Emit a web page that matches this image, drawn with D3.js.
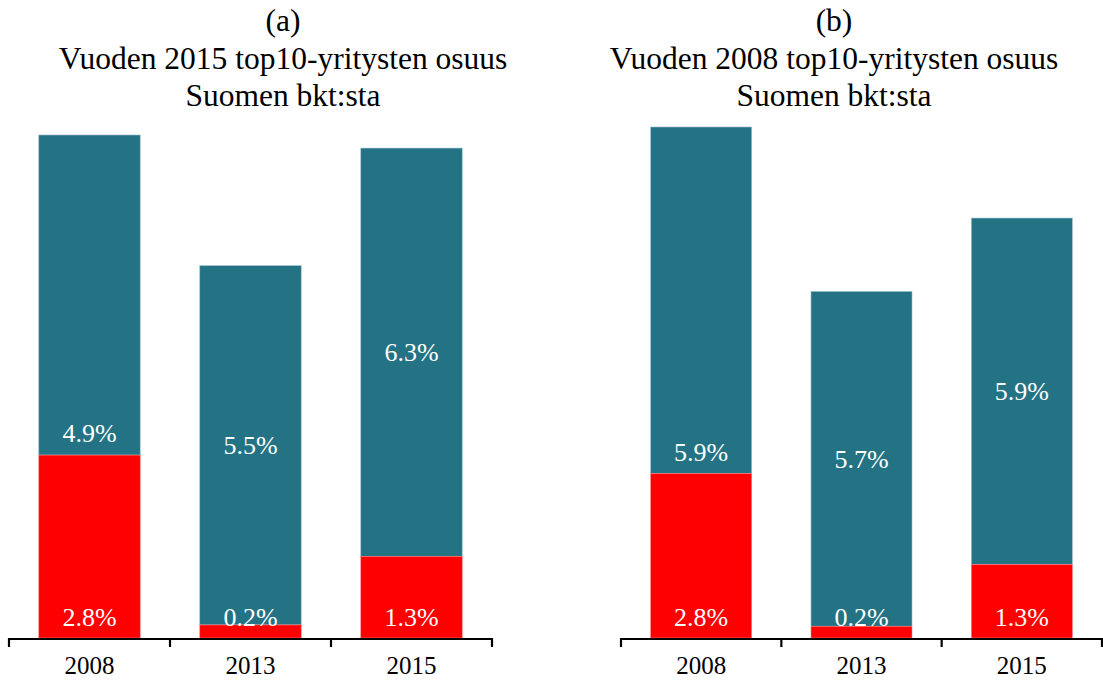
<!DOCTYPE html>
<html><head><meta charset="utf-8">
<script src="https://cdn.jsdelivr.net/npm/d3@7"></script>
<style>body{margin:0;background:#fff}svg{display:block}</style>
</head><body>
<svg id="c" width="1103" height="680"></svg>
<script>
const categories = ["2008", "2013", "2015"];
const panelLetters = ["(a)", "(b)"];
const panelTitles = [
  ["Vuoden 2015 top10-yritysten osuus", "Suomen bkt:sta"],
  ["Vuoden 2008 top10-yritysten osuus", "Suomen bkt:sta"]
];
// red (lower) segment values, % of GDP
const redA = [2.8, 0.2, 1.25];
const tealA = [4.9, 5.5, 6.25];
const redB = [2.8, 0.2, 1.25];
const tealB = [5.9, 5.7, 5.9];

const RED = "#ff0000", TEAL = "#237384";
const FONT = "'Liberation Serif', 'DejaVu Serif', serif";
const svg = d3.select("#c");

const panels = [
  {red: redA, teal: tealA, x0: 9, x1: 492, top: 135, cx: 283, letter: panelLetters[0], title: panelTitles[0]},
  {red: redB, teal: tealB, x0: 621, x1: 1102, top: 127, cx: 834, letter: panelLetters[1], title: panelTitles[1]}
];
const base = 638;

panels.forEach(p => {
  const g = svg.append("g");
  const x = d3.scaleBand().domain(categories).range([p.x0, p.x1]).paddingInner(0).paddingOuter(0);
  const totals = categories.map((c, i) => p.red[i] + p.teal[i]);
  const y = d3.scaleLinear().domain([0, d3.max(totals)]).range([base, p.top]);
  const bw = x.bandwidth() * 0.63;
  const off = (x.bandwidth() - bw) / 2;

  const rows = categories.map((c, i) => ({c, i, r: p.red[i], t: p.teal[i]}));

  g.selectAll(".t").data(rows).join("rect")
    .attr("x", d => x(d.c) + off).attr("width", bw)
    .attr("y", d => y(d.r + d.t)).attr("height", d => y(d.r) - y(d.r + d.t))
    .attr("fill", TEAL).attr("stroke", "#9cc0c8").attr("stroke-width", 0.6);
  g.selectAll(".r").data(rows).join("rect")
    .attr("x", d => x(d.c) + off).attr("width", bw)
    .attr("y", d => y(d.r)).attr("height", d => y(0) - y(d.r))
    .attr("fill", RED).attr("stroke", "#ff8080").attr("stroke-width", 0.6);

  g.selectAll(".tl").data(rows).join("text")
    .attr("x", d => x(d.c) + x.bandwidth() / 2)
    .attr("y", d => d.i === 0 ? y(d.r) - 22 : (y(d.r) + y(d.r + d.t)) / 2)
    .attr("dy", "0.35em").attr("text-anchor", "middle")
    .attr("fill", "#fff").attr("font-family", FONT).attr("font-size", 26)
    .text(d => d.t.toFixed(1) + "%");
  g.selectAll(".rl").data(rows).join("text")
    .attr("x", d => x(d.c) + x.bandwidth() / 2)
    .attr("y", base - 21)
    .attr("dy", "0.35em").attr("text-anchor", "middle")
    .attr("fill", "#fff").attr("font-family", FONT).attr("font-size", 26)
    .text(d => d.r.toFixed(1) + "%");

  g.append("line").attr("x1", p.x0).attr("x2", p.x1).attr("y1", base + 1).attr("y2", base + 1)
    .attr("stroke", "#000").attr("stroke-width", 2.2);
  const tickPos = categories.map(c => x(c)).concat([p.x1]);
  g.selectAll(".tk").data(tickPos).join("line")
    .attr("x1", d => d).attr("x2", d => d).attr("y1", base).attr("y2", base + 9)
    .attr("stroke", "#000").attr("stroke-width", 2.2);
  g.selectAll(".xl").data(categories).join("text")
    .attr("x", d => x(d) + x.bandwidth() / 2).attr("y", base + 27)
    .attr("dy", "0.35em").attr("text-anchor", "middle")
    .attr("fill", "#000").attr("font-family", FONT).attr("font-size", 25)
    .text(d => d);

  const lines = [p.letter].concat(p.title);
  g.selectAll(".ttl").data(lines).join("text")
    .attr("x", p.cx).attr("y", (d, i) => 20 + i * 37.5)
    .attr("dy", "0.35em").attr("text-anchor", "middle")
    .attr("fill", "#000").attr("font-family", FONT).attr("font-size", 31.5)
    .text(d => d);
});
</script>
</body></html>
